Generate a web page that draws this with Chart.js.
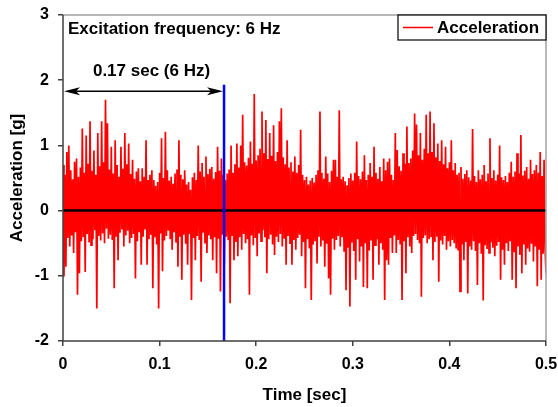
<!DOCTYPE html>
<html>
<head>
<meta charset="utf-8">
<script src="https://cdn.jsdelivr.net/npm/chart.js@4"></script>
<style>
  body { margin: 0; background: #fff; }
  canvas { display: block; }
</style>
</head>
<body>
<canvas id="accChart" width="558" height="407"></canvas>
<script>
// sample spacing of the record (1 ms)
const sampleStep = 0.001;

// acceleration [g], one value per sample
const acceleration = [
  0.70, -1.01, 0.55, -0.86, 0.90, -0.42, 1.00, -0.55, 0.62, -0.38,
  0.48, -0.65, 0.75, -0.33, 0.80, -1.29, 0.52, -0.96, 0.66, -0.47,
  1.26, -0.41, 0.58, -0.94, 1.15, -0.36, 0.72, -0.49, 1.37, -0.53,
  0.61, -0.44, 0.92, -0.30, 0.55, -1.50, 1.19, -0.39, 0.68, -0.46,
  1.37, -0.35, 0.74, -0.50, 1.70, -0.28, 1.34, -0.43, 0.63, -0.37,
  0.98, -0.45, 0.57, -1.19, 1.08, -0.40, 0.70, -0.76, 0.52, -0.34,
  0.98, -0.29, 0.64, -0.55, 1.19, -0.38, 0.71, -0.31, 1.03, -0.50,
  0.56, -0.42, 0.78, -0.36, 0.49, -1.04, 0.60, -0.47, 0.65, -0.33,
  0.45, -0.83, 0.65, -0.40, 0.52, -0.29, 1.08, -0.83, 0.47, -0.44,
  0.55, -0.37, 0.62, -1.19, 0.47, -0.41, 0.38, -0.52, 0.44, -1.50,
  0.58, -0.35, 1.11, -0.93, 0.50, -0.46, 1.21, -0.39, 0.62, -0.31,
  0.46, -0.44, 0.52, -0.60, 0.41, -0.33, 0.57, -0.48, 0.63, -0.86,
  1.08, -0.40, 0.55, -1.06, 0.48, -0.37, 0.62, -0.51, 0.40, -0.83,
  0.44, -0.36, 0.32, -1.37, 0.51, -0.42, 0.58, -0.76, 0.47, -0.39,
  1.00, -0.45, 0.60, -1.09, 0.73, -0.34, 0.52, -0.49, 0.83, -0.65,
  0.56, -0.38, 0.64, -0.44, 0.67, -0.76, 0.49, -0.41, 0.59, -0.96,
  0.98, -0.43, 0.61, -1.24, 0.80, -0.37, 0.55, -0.83, 0.47, -0.40,
  0.57, -0.45, 0.63, -1.42, 1.00, -0.39, 0.58, -0.76, 0.71, -0.48,
  1.03, -0.70, 0.66, -0.41, 1.00, -0.60, 1.47, -0.36, 0.74, -0.50,
  0.69, -0.44, 0.81, -1.29, 1.06, -0.38, 0.72, -0.53, 1.79, -0.42,
  0.77, -0.70, 0.85, -0.35, 0.95, -0.47, 1.52, -0.30, 0.88, -0.41,
  1.39, -0.96, 0.79, -0.44, 1.19, -0.37, 0.84, -0.52, 1.31, -0.68,
  0.76, -0.40, 0.90, -0.48, 1.37, -0.36, 1.57, -0.55, 0.82, -0.43,
  0.71, -0.83, 1.08, -0.39, 0.66, -0.50, 0.74, -0.83, 0.60, -0.45,
  0.83, -0.60, 0.58, -0.42, 0.70, -0.37, 1.24, -0.70, 0.55, -0.48,
  0.47, -1.19, 0.52, -0.44, 0.40, -0.58, 0.46, -1.37, 0.50, -0.52,
  0.43, -0.47, 0.55, -0.81, 0.62, -0.40, 1.52, -0.55, 0.58, -0.46,
  0.49, -0.86, 0.83, -0.51, 0.57, -1.04, 0.44, -1.29, 0.61, -0.43,
  0.78, -0.60, 0.78, -0.45, 0.52, -0.39, 1.54, -0.55, 0.48, -0.41,
  0.52, -0.63, 0.45, -1.22, 0.39, -0.57, 0.50, -1.47, 0.57, -0.49,
  0.46, -0.62, 0.58, -1.06, 1.06, -0.44, 0.53, -0.78, 0.48, -0.55,
  0.60, -1.17, 0.85, -0.50, 0.47, -1.19, 0.55, -0.61, 0.73, -0.46,
  0.52, -1.06, 0.98, -0.53, 0.58, -0.44, 0.49, -0.83, 0.67, -0.50,
  0.45, -0.60, 0.80, -1.37, 0.62, -0.76, 0.75, -0.83, 0.80, -0.42,
  0.55, -0.65, 0.47, -0.38, 1.19, -0.65, 0.93, -0.45, 0.68, -0.52,
  0.61, -1.37, 0.88, -0.47, 0.72, -0.96, 1.29, -0.41, 0.73, -0.55,
  0.80, -0.65, 0.92, -0.39, 1.49, -0.36, 1.32, -0.45, 0.85, -0.50,
  1.19, -1.32, 0.78, -0.42, 0.95, -0.38, 1.47, -0.50, 0.88, -0.44,
  1.52, -0.41, 0.90, -0.76, 1.34, -0.48, 0.82, -0.40, 1.03, -1.09,
  0.76, -0.46, 1.08, -0.52, 0.71, -0.39, 0.98, -0.60, 0.65, -0.47,
  0.74, -0.55, 1.08, -0.45, 0.62, -0.50, 0.73, -0.58, 0.55, -0.61,
  0.58, -1.24, 0.67, -0.52, 0.49, -0.76, 0.56, -0.48, 0.62, -1.27,
  0.51, -0.55, 0.46, -0.60, 1.25, -0.47, 0.53, -0.62, 0.44, -1.14,
  0.62, -0.50, 0.48, -0.66, 0.55, -1.38, 0.70, -0.53, 0.45, -0.59,
  0.57, -0.65, 1.11, -0.49, 0.50, -0.57, 0.62, -0.70, 0.46, -0.54,
  0.55, -0.48, 1.00, -1.06, 0.51, -0.60, 0.47, -0.83, 0.53, -0.50,
  0.44, -0.62, 0.58, -0.47, 0.75, -1.06, 0.52, -0.64, 0.60, -1.19,
  0.88, -0.55, 0.57, -0.68, 1.16, -0.96, 0.54, -0.52, 0.61, -0.83,
  0.67, -0.58, 0.49, -0.63, 0.78, -0.51, 0.56, -0.78, 0.62, -0.55,
  0.70, -1.16, 0.58, -0.60, 0.90, -1.06, 0.53, -0.66, 0.78, -0.57,
  -0.96
];

// axis ticks
const timeTicks = [0, 0.1, 0.2, 0.3, 0.4, 0.5];
const accTicks = [-2, -1, 0, 1, 2, 3];

// one excitation period and the marker line
const periodSec = 0.1667;
const periodLabel = '0.17 sec (6 Hz)';
const markerTop = 1.93;
const arrowLevel = 1.83;
const headerText = 'Excitation frequency: 6 Hz';
const seriesName = 'Acceleration';

const fontFamily = "'Liberation Sans', Arial, Helvetica, sans-serif";

const accPoints = acceleration.map((v, i) => ({ x: i * sampleStep, y: v }));

// frame, arrow, texts and legend drawn on top of the plot
const overlayPlugin = {
  id: 'overlay',
  afterDatasetsDraw(chart) {
    const { ctx, chartArea: a, scales: { x, y } } = chart;
    ctx.save();

    // grey top/right border, dark left/bottom axes
    ctx.lineWidth = 1.5;
    ctx.strokeStyle = '#a0a0a0';
    ctx.beginPath();
    ctx.moveTo(a.left, a.top);
    ctx.lineTo(a.right, a.top);
    ctx.lineTo(a.right, a.bottom);
    ctx.stroke();
    ctx.strokeStyle = '#404040';
    ctx.beginPath();
    ctx.moveTo(a.left, a.top);
    ctx.lineTo(a.left, a.bottom);
    ctx.lineTo(a.right, a.bottom);
    ctx.stroke();

    // double arrow for one period
    const ay = y.getPixelForValue(arrowLevel);
    const x0 = x.getPixelForValue(0) + 1;
    const x1 = x.getPixelForValue(periodSec) - 1;
    ctx.strokeStyle = '#000';
    ctx.fillStyle = '#000';
    ctx.lineWidth = 1.5;
    ctx.beginPath();
    ctx.moveTo(x0 + 8, ay);
    ctx.lineTo(x1 - 8, ay);
    ctx.stroke();
    ctx.beginPath();
    ctx.moveTo(x0, ay);
    ctx.lineTo(x0 + 16, ay - 4);
    ctx.lineTo(x0 + 12, ay);
    ctx.lineTo(x0 + 16, ay + 4);
    ctx.closePath();
    ctx.fill();
    ctx.beginPath();
    ctx.moveTo(x1, ay);
    ctx.lineTo(x1 - 16, ay - 4);
    ctx.lineTo(x1 - 12, ay);
    ctx.lineTo(x1 - 16, ay + 4);
    ctx.closePath();
    ctx.fill();

    ctx.font = 'bold 17px ' + fontFamily;
    ctx.textBaseline = 'middle';
    ctx.textAlign = 'center';
    ctx.fillText(periodLabel, (x0 + x1) / 2 + 8, ay - 20);

    ctx.textAlign = 'left';
    ctx.fillText(headerText, a.left + 5, a.top + 14);

    // legend box
    const lx = 398, ly = a.top, lw = a.right - 398, lh = 25;
    ctx.fillStyle = '#fff';
    ctx.fillRect(lx, ly, lw, lh);
    ctx.strokeStyle = '#000';
    ctx.lineWidth = 1.2;
    ctx.strokeRect(lx, ly, lw, lh);
    ctx.strokeStyle = '#ff0000';
    ctx.lineWidth = 1.5;
    ctx.beginPath();
    ctx.moveTo(lx + 5, ly + lh / 2);
    ctx.lineTo(lx + 35, ly + lh / 2);
    ctx.stroke();
    ctx.fillStyle = '#000';
    ctx.font = 'bold 17px ' + fontFamily;
    ctx.fillText(seriesName, lx + 39, ly + lh / 2 + 1);

    ctx.restore();
  }
};

new Chart(document.getElementById('accChart').getContext('2d'), {
  type: 'line',
  data: {
    datasets: [
      {
        label: 'marker',
        data: [{ x: periodSec, y: -2.05 }, { x: periodSec, y: markerTop }],
        borderColor: '#0000ff',
        borderWidth: 2.5,
        pointRadius: 0
      },
      {
        label: 'zero',
        data: [{ x: 0, y: 0 }, { x: 0.5, y: 0 }],
        borderColor: '#000',
        borderWidth: 2.5,
        pointRadius: 0
      },
      {
        label: seriesName,
        data: accPoints,
        borderColor: '#ff0000',
        borderWidth: 1.7,
        pointRadius: 0,
        tension: 0
      }
    ]
  },
  options: {
    responsive: false,
    animation: false,
    devicePixelRatio: 1,
    layout: { padding: { left: 0, top: 15, right: 12, bottom: 0 } },
    plugins: {
      legend: { display: false },
      tooltip: { enabled: false }
    },
    scales: {
      x: {
        type: 'linear',
        min: 0,
        max: 0.5,
        afterBuildTicks: s => { s.ticks = timeTicks.map(v => ({ value: v })); },
        afterFit: s => { s.height = 66; s.paddingLeft = 0; s.paddingRight = 0; },
        border: { display: false },
        grid: { drawOnChartArea: false, tickLength: 5, color: '#404040', lineWidth: 1.5 },
        ticks: {
          color: '#000',
          padding: 9,
          maxRotation: 0,
          font: { family: fontFamily, size: 16, weight: 'bold' },
          callback: v => String(+v.toFixed(1))
        },
        title: {
          display: true,
          text: 'Time [sec]',
          color: '#000',
          padding: { top: 0, bottom: 1 },
          font: { family: fontFamily, size: 17, weight: 'bold' }
        }
      },
      y: {
        min: -2,
        max: 3,
        afterBuildTicks: s => { s.ticks = accTicks.map(v => ({ value: v })); },
        afterFit: s => { s.width = 63; s.paddingTop = 0; s.paddingBottom = 0; },
        border: { display: false },
        grid: { drawOnChartArea: false, tickLength: 5, color: '#404040', lineWidth: 1.5 },
        ticks: {
          color: '#000',
          padding: 9,
          font: { family: fontFamily, size: 16, weight: 'bold' },
          callback: v => String(v)
        },
        title: {
          display: true,
          text: 'Acceleration [g]',
          color: '#000',
          padding: { top: 7, bottom: 0 },
          font: { family: fontFamily, size: 17, weight: 'bold' }
        }
      }
    }
  },
  plugins: [overlayPlugin]
});
</script>
</body>
</html>
